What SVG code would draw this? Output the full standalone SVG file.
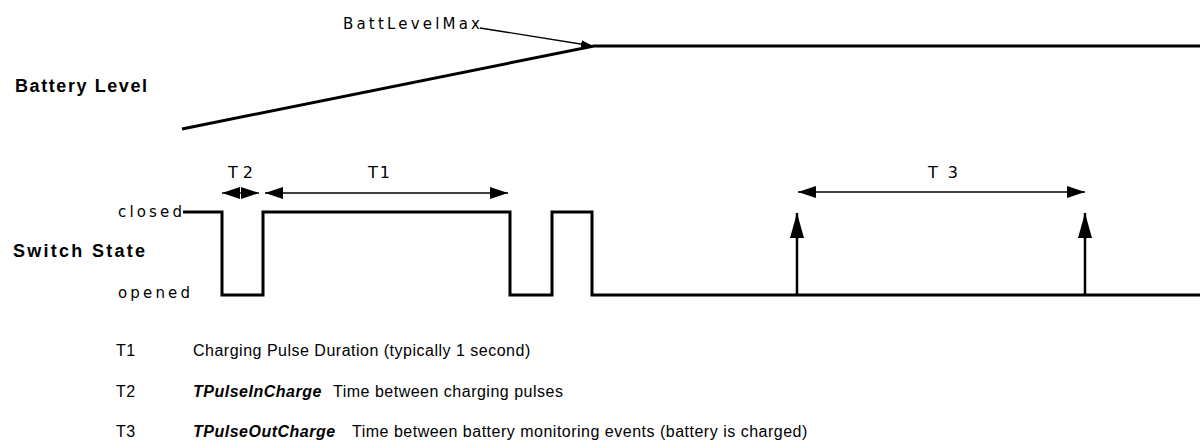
<svg xmlns="http://www.w3.org/2000/svg" width="1200" height="441" viewBox="0 0 1200 441">
<style>
.lbl{font-family:"DejaVu Sans","Liberation Sans",sans-serif;font-size:15px;fill:#000}
.tl{font-family:"DejaVu Sans","Liberation Sans",sans-serif;font-size:16px;fill:#000}
.head{font-family:"Liberation Sans",Arial,sans-serif;font-size:18px;font-weight:bold;fill:#000}
.leg{font-family:"Liberation Sans",Arial,sans-serif;font-size:16px;letter-spacing:0.5px;fill:#000}
.bi{font-weight:bold;font-style:italic}
.thick{fill:none;stroke:#000;stroke-width:3}
.thin{fill:none;stroke:#000;stroke-width:1.3}
.shaft{fill:none;stroke:#000;stroke-width:2.5}
</style>
<defs>
<marker id="ah" viewBox="0 0 18 12" refX="18" refY="6" markerWidth="18" markerHeight="12" markerUnits="userSpaceOnUse" orient="auto-start-reverse">
<path d="M0,0 L18,6 L0,12 Z" fill="#000"/>
</marker>
<marker id="ahs" viewBox="0 0 12 8" refX="12" refY="4" markerWidth="12" markerHeight="8" markerUnits="userSpaceOnUse" orient="auto">
<path d="M0,0 L12,4 L0,8 Z" fill="#000"/>
</marker>
<marker id="ahv" viewBox="0 0 25 14" refX="25" refY="7" markerWidth="25" markerHeight="14" markerUnits="userSpaceOnUse" orient="auto">
<path d="M0,0 L25,7 L0,14 Z" fill="#000"/>
</marker>
</defs>

<g id="battery-level">
<text class="head" x="15" y="92" textLength="132" lengthAdjust="spacing">Battery Level</text>
<polyline class="thick" points="182,129 594,46 1200,46"/>
</g>

<g id="batt-level-max">
<text class="lbl" x="343" y="29" textLength="137" lengthAdjust="spacing">BattLevelMax</text>
</g>

<g id="switch-state">
<text class="head" x="13" y="257" textLength="132" lengthAdjust="spacing">Switch State</text>
<text class="lbl" x="118" y="217" textLength="64" lengthAdjust="spacing">closed</text>
<text class="lbl" x="118" y="298" textLength="72" lengthAdjust="spacing">opened</text>
<polyline class="thick" points="183,212 222,212 222,295 263,295 263,212 510,212 510,295 552,295 552,212 592,212 592,295 1200,295"/>
</g>

<g id="t-labels">
<text class="tl" x="228" y="178" textLength="25" lengthAdjust="spacing">T2</text>
<text class="tl" x="368" y="178" textLength="22" lengthAdjust="spacing">T1</text>
<text class="tl" x="928" y="178" textLength="30" lengthAdjust="spacing">T3</text>
</g>

<g id="connectors">
<line class="thin" x1="480" y1="28" x2="593" y2="46" marker-end="url(#ahs)"/>
<line class="thin" x1="241" y1="193" x2="222" y2="193" marker-end="url(#ah)"/>
<line class="thin" x1="241" y1="193" x2="259" y2="193" marker-end="url(#ah)"/>
<line class="thin" x1="265" y1="193" x2="508" y2="193" marker-start="url(#ah)" marker-end="url(#ah)"/>
<line class="thin" x1="798" y1="192" x2="1085" y2="192" marker-start="url(#ah)" marker-end="url(#ah)"/>
<line class="shaft" x1="797" y1="295" x2="797" y2="213" marker-end="url(#ahv)"/>
<line class="shaft" x1="1085" y1="295" x2="1085" y2="213" marker-end="url(#ahv)"/>
</g>

<g id="legend">
<text class="leg" x="116" y="356">T1</text>
<text class="leg" x="193" y="356">Charging Pulse Duration (typically 1 second)</text>
<text class="leg" x="116" y="397">T2</text>
<text class="leg" x="193" y="397"><tspan class="bi">TPulseInCharge</tspan></text>
<text class="leg" x="333" y="397">Time between charging pulses</text>
<text class="leg" x="116" y="437">T3</text>
<text class="leg" x="193" y="437"><tspan class="bi">TPulseOutCharge</tspan></text>
<text class="leg" x="352" y="437">Time between battery monitoring events (battery is charged)</text>
</g>
</svg>
